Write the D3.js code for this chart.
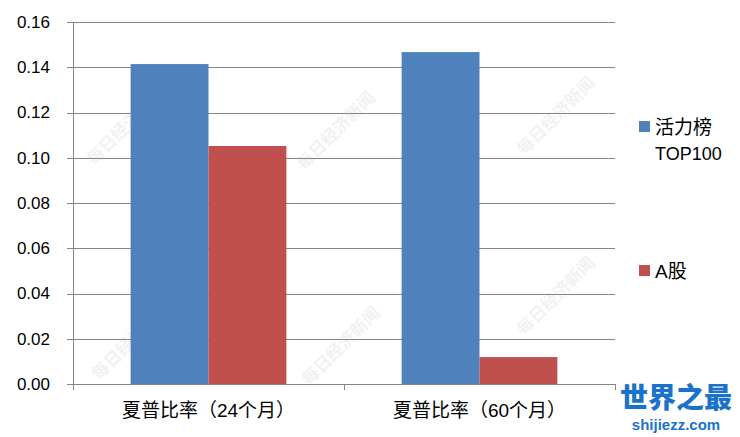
<!DOCTYPE html>
<html>
<head>
<meta charset="utf-8">
<script src="https://cdn.jsdelivr.net/npm/d3@7"></script>
<style>
  body { margin: 0; background: #fff; }
  text { font-family: "Liberation Sans", "Noto Sans CJK SC", sans-serif; }
</style>
</head>
<body>
<svg id="chart" width="740" height="437"></svg>
<script>
const categories = ["夏普比率（24个月）", "夏普比率（60个月）"];
const seriesNames = ["活力榜TOP100", "A股"];
const top100Values = [0.1414, 0.1467];
const aShareValues = [0.1052, 0.0119];
const yTicks = [0, 0.02, 0.04, 0.06, 0.08, 0.10, 0.12, 0.14, 0.16];
const colors = ["#4F81BD", "#C0504D"];

const svg = d3.select("#chart");
const margin = { left: 73, right: 125, top: 22, bottom: 53 };
const W = 740, H = 437;

const x = d3.scaleBand().domain(categories).range([margin.left, W - margin.right]);
const x1 = d3.scaleBand().domain(seriesNames).range([0, x.bandwidth()]).paddingOuter(0.74).paddingInner(0);
const y = d3.scaleLinear().domain([0, 0.16]).range([H - margin.bottom, margin.top]);

// watermarks
const marks = [[130, 130], [135, 345], [340, 135], [560, 120], [560, 300], [345, 350]];
svg.append("g").selectAll("text").data(marks).join("text")
  .attr("transform", d => `translate(${d[0]},${d[1]}) rotate(-45)`)
  .attr("text-anchor", "middle")
  .style("font-family", "Noto Sans CJK SC")
  .style("font-size", "17px")
  .style("font-weight", "bold")
  .attr("fill", "#000").attr("opacity", 0.05)
  .text("每日经济新闻");

// gridlines
svg.append("g").selectAll("line").data(yTicks).join("line")
  .attr("x1", margin.left - 6).attr("x2", W - margin.right)
  .attr("y1", d => Math.round(y(d)) + 0.5).attr("y2", d => Math.round(y(d)) + 0.5)
  .attr("stroke", "#868686").attr("stroke-width", 1);

// y labels
svg.append("g").selectAll("text").data(yTicks).join("text")
  .attr("x", 50).attr("y", d => y(d)).attr("dy", "0.35em")
  .attr("text-anchor", "end")
  .style("font-size", "17px").attr("fill", "#000")
  .text(d => d3.format(".2f")(d));

// bars
const data = categories.map((c, i) => ({ cat: c, vals: [top100Values[i], aShareValues[i]] }));
const groups = svg.append("g").selectAll("g").data(data).join("g")
  .attr("transform", d => `translate(${x(d.cat)},0)`);
groups.selectAll("rect").data(d => d.vals.map((v, j) => ({ name: seriesNames[j], v, j })))
  .join("rect")
  .attr("x", d => x1(d.name))
  .attr("width", x1.bandwidth())
  .attr("y", d => y(d.v))
  .attr("height", d => y(0) - y(d.v))
  .attr("fill", d => colors[d.j]);

// axes lines
svg.append("line")
  .attr("x1", margin.left + 0.5).attr("x2", margin.left + 0.5)
  .attr("y1", y(0.16)).attr("y2", y(0))
  .attr("stroke", "#868686");
const xTickPos = [margin.left, x(categories[1]), W - margin.right];
svg.append("g").selectAll("line").data(xTickPos).join("line")
  .attr("x1", d => Math.round(d) + 0.5).attr("x2", d => Math.round(d) + 0.5)
  .attr("y1", y(0)).attr("y2", y(0) + 6)
  .attr("stroke", "#868686");

// x labels
svg.append("g").selectAll("text").data(categories).join("text")
  .attr("x", d => x(d) + x.bandwidth() / 2).attr("y", 417)
  .attr("text-anchor", "middle")
  .style("font-size", "19px").attr("fill", "#000")
  .text(d => d);

// legend
const legend = svg.append("g");
legend.append("rect").attr("x", 639).attr("y", 121).attr("width", 11).attr("height", 11).attr("fill", colors[0]);
legend.append("text").attr("x", 655).attr("y", 134).style("font-size", "19px").text("活力榜");
legend.append("text").attr("x", 655).attr("y", 160).style("font-size", "18px").text("TOP100");
legend.append("rect").attr("x", 639).attr("y", 265).attr("width", 11).attr("height", 11).attr("fill", colors[1]);
legend.append("text").attr("x", 655).attr("y", 278).style("font-size", "19px").text("A股");

// site logo
svg.append("text").attr("x", 676).attr("y", 408).attr("text-anchor", "middle")
  .style("font-family", "Noto Sans CJK SC").style("font-size", "28px").style("font-weight", "900")
  .attr("fill", "#1a73c8").text("世界之最");
svg.append("text").attr("x", 676).attr("y", 430).attr("text-anchor", "middle")
  .style("font-size", "15px").style("font-weight", "bold")
  .attr("fill", "#1a73c8").text("shijiezz.com");
</script>
</body>
</html>
